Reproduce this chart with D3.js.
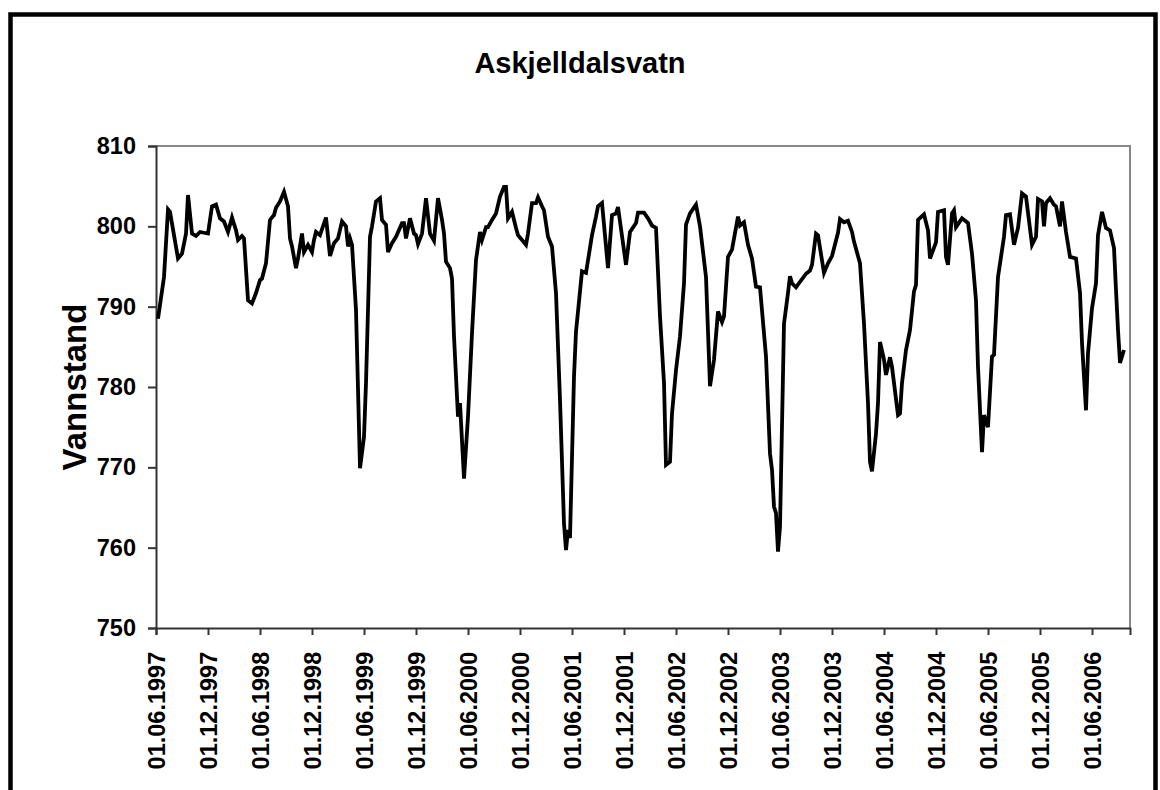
<!DOCTYPE html>
<html>
<head>
<meta charset="utf-8">
<script src="https://cdn.jsdelivr.net/npm/d3@7"></script>
<style>
  body { margin: 0; background: #fff; }
  text { font-family: Arial, "Liberation Sans", sans-serif; font-weight: bold; fill: #000; }
</style>
</head>
<body>
<div id="chart"></div>
<script>

  // Data - weekly water level, week 0 = 01.06.1997

  var week = [1, 4, 6, 7, 11, 13, 15, 16, 18, 20, 22, 24, 26, 28, 30, 32, 34, 36, 38, 40,
    41, 43, 44, 46, 48, 50, 52, 53, 55, 57, 59, 60, 62, 64, 66, 67, 68, 70, 71, 73,
    74, 76, 78, 79, 80, 82, 85, 87, 89, 91, 93, 95, 96, 97, 98, 100, 102, 104, 105, 107,
    108, 110, 112, 113, 115, 116, 118, 120, 123, 124, 125, 127, 129, 130, 131, 133, 135, 137, 139, 141,
    143, 144, 145, 147, 148, 149, 151, 152, 154, 156, 158, 160, 162, 163, 165, 166, 168, 170, 172, 174,
    175, 176, 178, 180, 181, 185, 186, 188, 190, 191, 193, 194, 196, 198, 200, 202, 204, 205, 206, 207,
    209, 210, 213, 215, 218, 220, 221, 223, 226, 228, 230, 231, 235, 237, 240, 241, 244, 246, 248, 250,
    252, 254, 255, 257, 258, 260, 262, 264, 265, 267, 270, 272, 275, 277, 279, 281, 283, 284, 286, 288,
    291, 292, 294, 296, 298, 300, 302, 305, 307, 308, 309, 310, 311, 312, 314, 316, 317, 318, 320, 322,
    325, 327, 328, 330, 331, 334, 336, 338, 341, 342, 344, 346, 348, 349, 352, 354, 356, 357, 358, 360,
    361, 362, 364, 365, 367, 368, 369, 371, 372, 373, 375, 377, 379, 380, 381, 384, 386, 387, 390, 391,
    394, 395, 396, 398, 399, 400, 403, 406, 408, 410, 411, 413, 414, 416, 418, 419, 421, 424, 425, 427,
    429, 431, 433, 435, 438, 440, 441, 443, 444, 445, 447, 449, 450, 452, 453, 455, 457, 460, 462, 463,
    465, 466, 468, 470, 471, 473, 475, 477, 479, 480, 481, 482, 484];

  var level = [788.5, 793.7, 802.1, 801.8, 796.0, 796.6, 799.1, 803.9, 799.1, 798.8, 799.3, 799.2, 799.1, 802.5, 802.7, 801.0, 800.6, 799.3, 801.1, 799.5,
    798.3, 798.8, 798.5, 790.8, 790.4, 791.7, 793.3, 793.5, 795.4, 800.8, 801.4, 802.3, 803.1, 804.3, 802.5, 798.5, 797.5, 794.8, 796.0, 799.1,
    796.8, 797.7, 796.8, 798.3, 799.3, 798.9, 801.1, 796.3, 797.9, 798.5, 800.6, 800.0, 797.5, 798.5, 797.7, 789.6, 769.9, 773.8, 780.5, 798.7,
    800.0, 803.1, 803.5, 800.8, 800.2, 796.8, 797.9, 798.7, 800.4, 800.4, 798.5, 801.0, 799.1, 798.9, 797.8, 799.1, 803.5, 799.1, 798.2, 803.5,
    800.8, 799.1, 795.6, 794.8, 793.5, 786.3, 776.3, 778.0, 768.6, 776.3, 786.7, 795.8, 799.3, 798.3, 799.9, 799.9, 800.8, 801.6, 803.7, 804.9,
    804.9, 801.0, 801.8, 799.8, 798.9, 797.7, 799.1, 802.9, 802.9, 803.6, 802.5, 802.0, 798.7, 797.5, 791.7, 778.4, 763.0, 759.7, 762.2, 761.2,
    781.3, 786.9, 794.4, 794.2, 798.9, 801.2, 802.5, 802.9, 794.8, 801.4, 801.6, 802.4, 795.2, 799.3, 800.4, 801.7, 801.7, 801.0, 800.1, 799.8,
    788.8, 780.5, 770.3, 770.7, 776.7, 782.1, 786.3, 792.9, 800.2, 801.6, 802.7, 800.0, 793.7, 780.1, 783.4, 789.4, 788.1, 788.8, 796.2, 797.1,
    801.2, 800.1, 800.5, 797.7, 796.0, 792.5, 792.4, 783.8, 771.7, 769.7, 765.1, 764.3, 759.5, 762.6, 787.9, 791.7, 793.8, 792.9, 792.4, 793.1,
    794.1, 794.5, 795.2, 799.1, 798.9, 794.2, 795.4, 796.3, 799.2, 800.9, 800.5, 800.7, 799.3, 798.1, 795.4, 787.9, 778.0, 770.7, 769.5, 774.2,
    778.0, 785.6, 783.4, 781.5, 783.7, 782.5, 780.5, 776.5, 776.7, 780.5, 784.6, 787.1, 791.9, 792.7, 800.8, 801.5, 799.5, 796.0, 798.0, 801.8,
    802.0, 796.2, 795.2, 801.6, 802.0, 799.9, 801.0, 800.4, 796.6, 790.8, 782.5, 771.9, 776.5, 775.0, 783.8, 784.0, 793.7, 798.7, 801.4, 801.5,
    797.7, 799.8, 804.1, 803.7, 797.7, 798.7, 803.4, 803.1, 800.0, 802.9, 803.5, 802.7, 802.5, 800.0, 803.1, 799.3, 796.2, 796.0, 791.7, 785.5,
    777.1, 784.2, 789.8, 792.9, 798.9, 801.8, 799.8, 799.5, 797.3, 792.1, 787.1, 783.0, 784.6];

  // Tick labels, one every 26 weeks
  var tickWeeks = [0, 26, 52, 78, 104, 130, 156, 182, 208, 234, 260, 286, 312, 338, 364, 390, 416, 442, 468];
  var tickLabels = ["01.06.1997", "01.12.1997", "01.06.1998", "01.12.1998", "01.06.1999", "01.12.1999",
    "01.06.2000", "01.12.2000", "01.06.2001", "01.12.2001", "01.06.2002", "01.12.2002", "01.06.2003",
    "01.12.2003", "01.06.2004", "01.12.2004", "01.06.2005", "01.12.2005", "01.06.2006"];
  var yTicks = [750, 760, 770, 780, 790, 800, 810];

  var data = week.map(function(w, i) { return {week: w, level: level[i]}; });

  var width = 1160,
      height = 790;
  var plot = {left: 156, right: 1130, top: 146, bottom: 628};

  var svg = d3.select("#chart")
      .append("svg")
      .attr("width", width)
      .attr("height", height);

  // Outer frame
  svg.append("rect")
      .attr("x", 10.5)
      .attr("y", 14.5)
      .attr("width", 1145)
      .attr("height", 820)
      .attr("fill", "none")
      .attr("stroke", "#000")
      .attr("stroke-width", 4.5);

  // Scales

  var xScale = d3.scaleLinear()
      .domain([0, 487])
      .range([plot.left, plot.right]);

  var yScale = d3.scaleLinear()
      .domain([750, 810])
      .range([plot.bottom, plot.top]);

  // Plot area border (top + right are grey)
  svg.append("path")
      .attr("d", `M${plot.left},${plot.top}H${plot.right}V${plot.bottom}`)
      .attr("fill", "none")
      .attr("stroke", "#888")
      .attr("stroke-width", 2);

  // Axes

  var xAxis = svg.append("g")
      .attr("transform", `translate(0, ${plot.bottom})`)
      .call(d3.axisBottom(xScale)
        .tickValues(tickWeeks)
        .tickSize(7)
        .tickFormat(function(d, i) { return tickLabels[i]; }));

  xAxis.selectAll("text")
      .style("text-anchor", "end")
      .attr("font-size", "23.5px")
      .attr("font-family", null)
      .attr("dx", "-0.5em")
      .attr("dy", "0.36em")
      .attr("y", 0)
      .attr("x", -12)
      .attr("transform", "rotate(-90)");

  var yAxis = svg.append("g")
      .attr("transform", `translate(${plot.left}, 0)`)
      .call(d3.axisLeft(yScale)
        .tickValues(yTicks)
        .tickSize(8)
        .tickPadding(12)
        .tickFormat(d3.format("d")));

  yAxis.selectAll("text")
      .attr("font-size", "23.5px")
      .attr("font-family", null);

  svg.selectAll(".domain, .tick line")
      .attr("stroke", "#333")
      .attr("stroke-width", 2);

  // Labels

  svg.append("text")
      .attr("x", 580)
      .attr("y", 73)
      .attr("text-anchor", "middle")
      .attr("font-size", "29px")
      .text("Askjelldalsvatn");

  svg.append("text")
      .attr("transform", "rotate(-90)")
      .attr("x", -387)
      .attr("y", 86)
      .attr("text-anchor", "middle")
      .attr("font-size", "33px")
      .text("Vannstand");

  // Line

  var line = d3.line()
      .x(function(d) { return xScale(d.week); })
      .y(function(d) { return yScale(d.level); });

  svg.append("path")
      .datum(data)
      .attr("d", line)
      .attr("fill", "none")
      .attr("stroke", "#000")
      .attr("stroke-width", 3.8)
      .attr("stroke-linejoin", "miter");

</script>
</body>
</html>
